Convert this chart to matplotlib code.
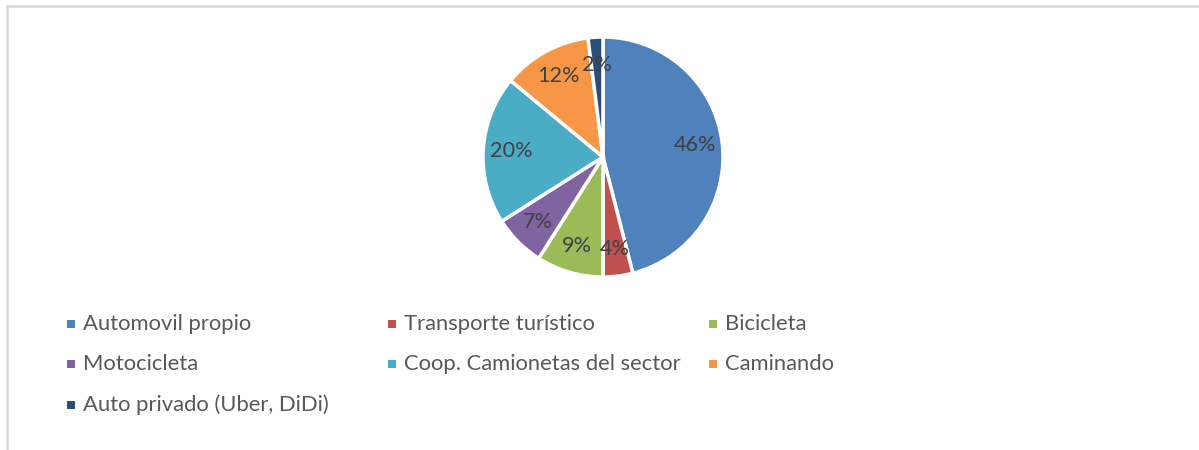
import matplotlib
matplotlib.use("Agg")
import matplotlib.pyplot as plt
from matplotlib.patches import Rectangle
from matplotlib.lines import Line2D

# datos
categorias = ["Automovil propio", "Transporte turístico", "Bicicleta",
              "Motocicleta", "Coop. Camionetas del sector", "Caminando",
              "Auto privado (Uber, DiDi)"]
porcentajes = [46, 4, 9, 7, 20, 12, 2]
colores = ["#4F81BD", "#C0504D", "#9BBB59", "#8064A2", "#4BACC6", "#F79646", "#2C4D75"]

plt.rcParams["font.family"] = ["Lato", "DejaVu Sans"]

W, H = 1199, 450
fig = plt.figure(figsize=(W / 100, H / 100), dpi=100)

# marco del area del grafico
fig.add_artist(Line2D([7 / W, 1.01], [1 - 6 / H, 1 - 6 / H], color="#D9D9D9", lw=1.8))
fig.add_artist(Line2D([7 / W, 7 / W], [1 - 6 / H, -0.01], color="#D9D9D9", lw=1.8))

# pastel
cx, cy, r = 603, 157, 120
ax = fig.add_axes([(cx - r) / W, (H - cy - r) / H, 2 * r / W, 2 * r / H])
ax.pie(porcentajes, colors=colores, startangle=90, counterclock=False,
       autopct="%d%%", pctdistance=0.77, radius=1,
       wedgeprops=dict(edgecolor="white", linewidth=2.5),
       textprops=dict(color="#404040", fontsize=15.6))
ax.set_xlim(-1, 1)
ax.set_ylim(-1, 1)
ax.set_aspect("equal")
ax.axis("off")

# leyenda manual (3 columnas)
col_x = [67, 388, 709]
fila_y = [324, 364, 405]
for i, (cat, col) in enumerate(zip(categorias, colores)):
    x = col_x[i % 3]
    y = fila_y[i // 3]
    fig.add_artist(Rectangle((x / W, 1 - (y + 4) / H), 8 / W, 8 / H,
                             facecolor=col, edgecolor="none"))
    fig.text((x + 16) / W, 1 - y / H, cat, color="#595959", fontsize=15.8,
             va="center", ha="left")

fig.savefig("out.png", dpi=100)
